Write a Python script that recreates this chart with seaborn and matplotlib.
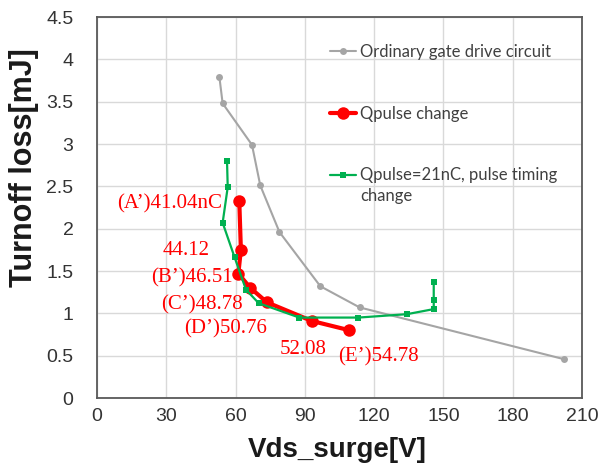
import numpy as np
import pandas as pd
import matplotlib
matplotlib.use('Agg')
import matplotlib.pyplot as plt
from matplotlib.ticker import FuncFormatter
import seaborn as sns

# Данные
gray_v = [53.0, 54.4, 67.1, 70.7, 79.0, 96.7, 113.7, 202.0]
gray_e = [3.79, 3.48, 2.99, 2.51, 1.96, 1.32, 1.07, 0.46]

red_v = [61.6, 62.3, 61.2, 66.4, 73.6, 93.0, 109.3]
red_e = [2.33, 1.75, 1.47, 1.30, 1.13, 0.91, 0.80]
red_labels = ['(A\u2019)41.04nC', '44.12', '(B\u2019)46.51', '(C\u2019)48.78',
              '(D\u2019)50.76', '52.08', '(E\u2019)54.78']

green_v = [56.3, 56.6, 54.4, 59.6, 64.5, 70.0, 87.6, 113.2, 134.2, 145.8, 145.8, 145.8]
green_e = [2.80, 2.49, 2.07, 1.66, 1.28, 1.12, 0.95, 0.95, 0.99, 1.05, 1.16, 1.37]

names = ['Ordinary gate drive circuit', 'Qpulse change', 'Qpulse=21nC, pulse timing']
name_tail = 'change'  # вторая строка третьей подписи легенды

x_ticks = [0, 30, 60, 90, 120, 150, 180, 210]
y_ticks = [0, 0.5, 1, 1.5, 2, 2.5, 3, 3.5, 4, 4.5]

sns.set_theme(style='white')
plt.rcParams['font.family'] = ['Liberation Sans', 'DejaVu Sans']

fig, ax = plt.subplots(figsize=(6.09, 4.73), dpi=100)
fig.subplots_adjust(left=97/609, right=582/609, bottom=1-398/473, top=1-17/473)

sns.lineplot(x=gray_v, y=gray_e, ax=ax, color='#A5A5A5', marker='o', markersize=5,
             markeredgewidth=0, linewidth=1.5, sort=False, estimator=None, label=names[0])
sns.lineplot(x=red_v, y=red_e, ax=ax, color='#FF0000', marker='o', markersize=9,
             markeredgewidth=0, linewidth=3, sort=False, estimator=None, label=names[1])
sns.lineplot(x=green_v, y=green_e, ax=ax, color='#00B050', marker='s', markersize=4.5,
             markeredgewidth=0, linewidth=1.6, sort=False, estimator=None, label=names[2])

# подписи к красным точкам (смещения в пикселях)
offsets = [(-17, -3, 'right'), (-31, -1, 'right'), (-6, -4, 'right'), (-8, -17, 'right'),
           (0, -27, 'right'), (-9, -29, 'center'), (-11, -27, 'left')]
for xv, yv, txt, (dx, dy, ha) in zip(red_v, red_e, red_labels, offsets):
    ax.annotate(txt, (xv, yv), xytext=(dx, dy), textcoords='offset pixels',
                ha=ha, va='center', color='#FF0000', fontsize=15,
                family=['Liberation Serif', 'DejaVu Serif'])

ax.set_xlim(0, 210)
ax.set_ylim(0, 4.5)
ax.set_xticks(x_ticks)
ax.set_yticks(y_ticks)
ax.yaxis.set_major_formatter(FuncFormatter(lambda v, p: f'{v:g}'))
ax.tick_params(axis='both', length=0, labelsize=14, labelcolor='#333333')
ax.tick_params(axis='y', pad=17)
ax.tick_params(axis='x', pad=7)
ax.grid(True, color='#D9D9D9', linewidth=1)
for s in ax.spines.values():
    s.set_color('#595959')
    s.set_linewidth(1.3)

ax.set_xlabel('Vds_surge[V]', fontsize=20, fontweight='bold', color='#1a1a1a')
ax.set_ylabel('Turnoff loss[mJ]', fontsize=22, fontweight='bold', color='#1a1a1a')
ax.xaxis.set_label_coords(0.496, -0.102)
ax.yaxis.set_label_coords(-0.12, 0.604)

leg_font = {'family': 'Lato', 'size': 12}
leg = ax.legend(loc='upper left', bbox_to_anchor=(0.48, 0.93), frameon=False,
                handlelength=1.6, handletextpad=0.2, labelspacing=2.75,
                borderpad=0, borderaxespad=0, prop=leg_font)
for t in leg.get_texts():
    t.set_color('#404040')

# вторая строка третьей подписи
fig.canvas.draw()
bb = leg.get_texts()[2].get_window_extent()
fig.text(bb.x0 / 609, (bb.y0 - 21) / 473, name_tail, color='#404040',
         fontfamily=leg_font['family'], fontsize=leg_font['size'], va='bottom')

fig.savefig('out.png', dpi=100, facecolor='white')
